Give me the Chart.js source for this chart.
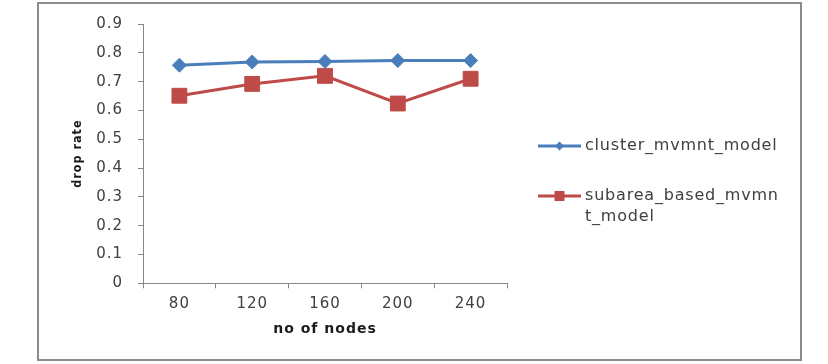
<!DOCTYPE html>
<html>
<head>
<meta charset="utf-8">
<script src="https://cdn.jsdelivr.net/npm/chart.js@4.4.0/dist/chart.umd.min.js"></script>
<style>
html, body { margin: 0; padding: 0; background: #fff; }
#wrap { width: 828px; height: 364px; }
</style>
</head>
<body>
<div id="wrap"><canvas id="chart" width="828" height="364"></canvas></div>
<script>
// data
const nodeCounts = ['80', '120', '160', '200', '240'];
const clusterDrop = [0.757, 0.768, 0.770, 0.773, 0.773];
const subareaDrop = [0.651, 0.692, 0.720, 0.624, 0.710];
const yTickValues = [0, 0.1, 0.2, 0.3, 0.4, 0.5, 0.6, 0.7, 0.8, 0.9];
const yTickLabels = ['0', '0.1', '0.2', '0.3', '0.4', '0.5', '0.6', '0.7', '0.8', '0.9'];

const BLUE = '#4A7EBB';
const RED = '#BE4B48';
const AXIS = '#868686';
const TEXT = '#404040';

// the source text is a bit stretched, widen it a little
const spacingPlugin = {
    id: 'spacing',
    beforeUpdate(chart) { chart.ctx.letterSpacing = '1px'; },
    beforeDraw(chart) { chart.ctx.letterSpacing = '1px'; }
};

// outer frame like the excel chart area
const framePlugin = {
    id: 'frame',
    beforeDraw(chart) {
        const ctx = chart.ctx;
        ctx.save();
        ctx.fillStyle = '#fff';
        ctx.fillRect(0, 0, chart.width, chart.height);
        ctx.strokeStyle = '#8c8c8c';
        ctx.lineWidth = 2;
        ctx.strokeRect(38, 3, 763, 357);
        ctx.restore();
    }
};

// legend on the right, second label wraps onto two lines
const sideLegend = {
    id: 'sideLegend',
    afterDraw(chart) {
        const ctx = chart.ctx;
        const rows = [146, 196];
        ctx.save();
        ctx.font = '16px "DejaVu Sans", sans-serif';
        ctx.letterSpacing = '0.8px';
        ctx.textBaseline = 'middle';
        chart.data.datasets.forEach((ds, i) => {
            const y = rows[i];
            ctx.strokeStyle = ds.borderColor;
            ctx.lineWidth = 3;
            ctx.beginPath();
            ctx.moveTo(538, y);
            ctx.lineTo(581, y);
            ctx.stroke();
            ctx.fillStyle = ds.borderColor;
            ctx.beginPath();
            if (ds.pointStyle === 'rectRot') {
                ctx.moveTo(559.5 - 4.5, y);
                ctx.lineTo(559.5, y - 4.5);
                ctx.lineTo(559.5 + 4.5, y);
                ctx.lineTo(559.5, y + 4.5);
                ctx.closePath();
            } else {
                ctx.rect(559.5 - 5, y - 5, 10, 10);
            }
            ctx.fill();
            ctx.fillStyle = TEXT;
            const label = ds.label;
            const lines = label.length > 20 ? [label.slice(0, 18), label.slice(18)] : [label];
            lines.forEach((ln, k) => ctx.fillText(ln, 585, y + k * 21));
        });
        ctx.restore();
    }
};

new Chart(document.getElementById('chart'), {
    type: 'line',
    data: {
        labels: nodeCounts,
        datasets: [
            {
                label: 'cluster_mvmnt_model',
                data: clusterDrop,
                borderColor: BLUE,
                backgroundColor: BLUE,
                borderWidth: 3,
                pointStyle: 'rectRot',
                pointRadius: 7,
                pointBorderWidth: 1,
                tension: 0
            },
            {
                label: 'subarea_based_mvmnt_model',
                data: subareaDrop,
                borderColor: RED,
                backgroundColor: RED,
                borderWidth: 3,
                pointStyle: 'rect',
                pointRadius: 10.5,
                pointBorderWidth: 1,
                tension: 0
            }
        ]
    },
    options: {
        responsive: false,
        animation: false,
        layout: { padding: { left: 70, right: 321, top: 21, bottom: 26 } },
        plugins: {
            legend: { display: false },
            tooltip: { enabled: false }
        },
        scales: {
            x: {
                type: 'category',
                offset: true,
                grid: { offset: true, drawOnChartArea: false, tickLength: 5, color: AXIS },
                border: { color: AXIS, width: 1 },
                ticks: {
                    color: TEXT,
                    padding: 7,
                    maxRotation: 0,
                    font: { family: '"DejaVu Sans", sans-serif', size: 15 }
                },
                title: {
                    display: true,
                    text: 'no of nodes',
                    color: '#1a1a1a',
                    padding: { top: 0, bottom: 0 },
                    font: { family: '"DejaVu Sans", sans-serif', size: 14, weight: 'bold' }
                },
                afterFit(scale) { scale.height = 54.7; }
            },
            y: {
                min: 0,
                max: 0.9,
                grid: { drawOnChartArea: false, tickLength: 5, color: AXIS },
                border: { color: AXIS, width: 1 },
                afterBuildTicks(scale) {
                    scale.ticks = yTickValues.map(v => ({ value: v }));
                },
                ticks: {
                    color: TEXT,
                    padding: 15,
                    font: { family: '"DejaVu Sans", sans-serif', size: 15 },
                    callback: (v, i) => yTickLabels[i]
                },
                title: {
                    display: true,
                    text: 'drop rate',
                    color: '#1a1a1a',
                    padding: { top: 0, bottom: 0 },
                    font: { family: '"DejaVu Sans Condensed", "DejaVu Sans", sans-serif', size: 12.5, weight: 'bold' }
                },
                afterFit(scale) { scale.width = 73; }
            }
        }
    },
    plugins: [spacingPlugin, framePlugin, sideLegend]
});
</script>
</body>
</html>
